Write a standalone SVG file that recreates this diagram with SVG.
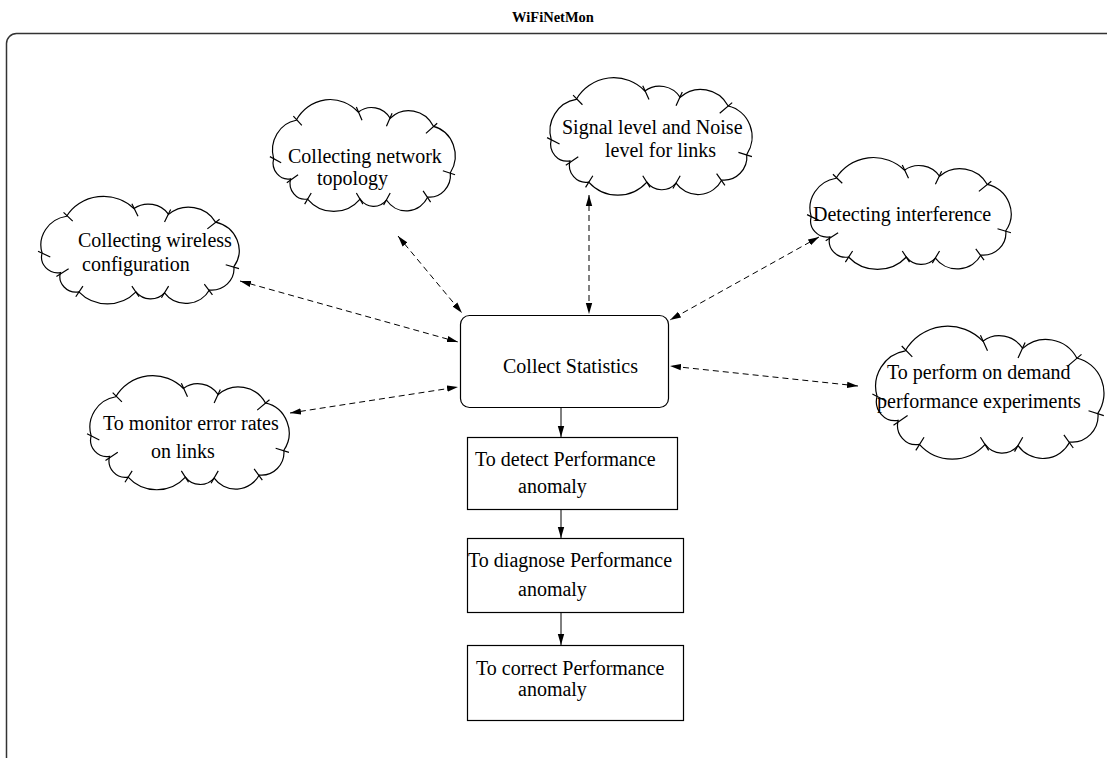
<svg xmlns="http://www.w3.org/2000/svg" width="1107" height="758" viewBox="0 0 1107 758">
<style>
.t{font-family:"Liberation Serif","Times New Roman",serif;font-size:20px;fill:#000}
.title{font-family:"Liberation Serif","Times New Roman",serif;font-size:14.5px;font-weight:bold;fill:#000}
.box{fill:#fff;stroke:#000;stroke-width:1.2}
.cl{fill:#fff;stroke:#000;stroke-width:1.2;vector-effect:non-scaling-stroke}
.tk{fill:none;stroke:#000;stroke-width:1.2;vector-effect:non-scaling-stroke}
.dash{fill:none;stroke:#000;stroke-width:1;stroke-dasharray:6 4;marker-start:url(#ah);marker-end:url(#ah)}
.solid{fill:none;stroke:#000;stroke-width:1;marker-end:url(#ah)}
</style>
<defs>
<marker id="ah" markerUnits="userSpaceOnUse" markerWidth="12" markerHeight="8" refX="11" refY="4" orient="auto-start-reverse" viewBox="0 0 12 8">
<path d="M0,0.8 L11,4 L0,7.2 Z" fill="#000"/>
</marker>
<g id="cloud">
<path class="cl" d="M6,62 A30,30 0 0 1 30,24 A42,42 0 0 1 96,16 A24,24 0 0 1 130,22 A30,30 0 0 1 176,30 A30,30 0 0 1 194,76 A22,22 0 0 1 170,100 A26,26 0 0 1 126,103 A18,18 0 0 1 98,102 A38,38 0 0 1 42,102 A16,16 0 0 1 24,82 A16,16 0 0 1 6,62 Z"/>
<path class="tk" d="M27,20 L36,29 M94,11 L100,24 M132,17 L126,30 M180,27 L168,37 M199,78 L186,74 M173,105 L165,94 M123,108 L130,96 M101,107 L94,96 M39,107 L46,96 M20,86 L32,78 M2,60 L14,66"/>
</g>
</defs>

<text class="title" x="553" y="22" text-anchor="middle">WiFiNetMon</text>
<rect x="6.5" y="33.5" width="1120" height="735" rx="10" fill="none" stroke="#333" stroke-width="1.5"/>

<g id="connectors">
<line class="dash" x1="240" y1="281" x2="458" y2="342"/>
<line class="dash" x1="398" y1="236" x2="462" y2="313"/>
<line class="dash" x1="589" y1="195" x2="589" y2="314"/>
<line class="dash" x1="819" y1="237" x2="670" y2="320"/>
<line class="dash" x1="858" y1="386" x2="670" y2="366"/>
<line class="dash" x1="290" y1="413" x2="458" y2="387"/>
<line class="solid" x1="561" y1="408" x2="561" y2="437"/>
<line class="solid" x1="561" y1="510" x2="561" y2="538"/>
<line class="solid" x1="561" y1="612" x2="561" y2="645"/>
</g>

<g id="cloud-wireless">
<use href="#cloud" transform="translate(36,193) scale(1.02,0.97)"/>
<text class="t" x="78" y="247">Collecting wireless</text>
<text class="t" x="82" y="271">configuration</text>
</g>
<g id="cloud-topology">
<use href="#cloud" transform="translate(268,96) scale(0.94,1.01)"/>
<text class="t" x="288" y="163">Collecting network</text>
<text class="t" x="317" y="185">topology</text>
</g>
<g id="cloud-signal">
<use href="#cloud" transform="translate(545,74) scale(1.04,1.06)"/>
<text class="t" x="562" y="134">Signal level and Noise</text>
<text class="t" x="605" y="157">level for links</text>
</g>
<g id="cloud-interference">
<use href="#cloud" transform="translate(805,154) scale(1.035,1.01)"/>
<text class="t" x="813" y="221">Detecting interference</text>
</g>
<g id="cloud-perform">
<use href="#cloud" transform="translate(870,322) scale(1.175,1.2)"/>
<text class="t" x="887" y="379">To perform on demand</text>
<text class="t" x="877" y="408">performance experiments</text>
</g>
<g id="cloud-monitor">
<use href="#cloud" transform="translate(85,372) scale(1.025,1.03)"/>
<text class="t" x="103" y="430">To monitor error rates</text>
<text class="t" x="151" y="458">on links</text>
</g>

<g id="collect">
<rect class="box" x="460.5" y="315.5" width="208" height="92" rx="9" stroke="#444"/>
<text class="t" x="503" y="373">Collect Statistics</text>
</g>
<g id="detect">
<rect class="box" x="467.5" y="437.5" width="210" height="72"/>
<text class="t" x="475" y="466">To detect Performance</text>
<text class="t" x="518" y="493">anomaly</text>
</g>
<g id="diagnose">
<rect class="box" x="467.5" y="538.5" width="216" height="74"/>
<text class="t" x="468" y="567">To diagnose Performance</text>
<text class="t" x="518" y="596">anomaly</text>
</g>
<g id="correct">
<rect class="box" x="467.5" y="645.5" width="216" height="75"/>
<text class="t" x="476" y="675">To correct Performance</text>
<text class="t" x="518" y="696">anomaly</text>
</g>
</svg>
